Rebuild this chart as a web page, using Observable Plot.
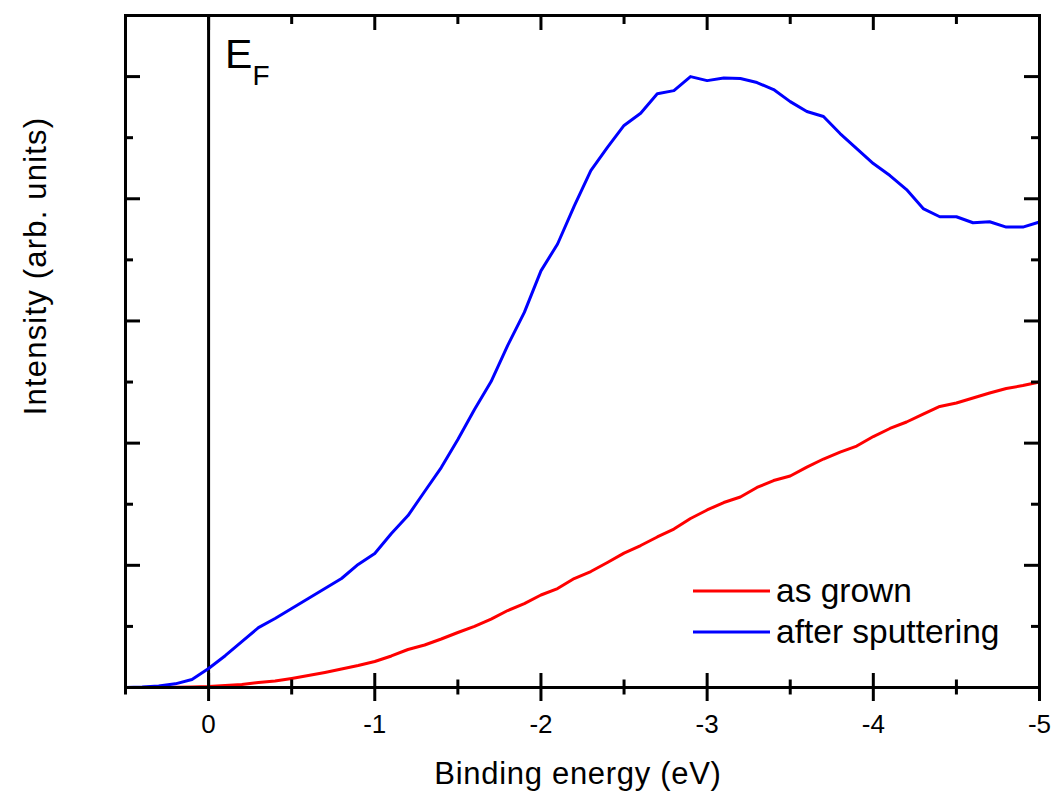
<!DOCTYPE html>
<html>
<head>
<meta charset="utf-8">
<script src="https://cdn.jsdelivr.net/npm/d3@7"></script>
<script src="https://cdn.jsdelivr.net/npm/@observablehq/plot@0.6"></script>
<style>
  body { margin: 0; background: #fff; }
  #chart svg { font-family: Arial, "Liberation Sans", sans-serif; }
</style>
</head>
<body>
<div id="chart"></div>
<script>
// Binding energy (eV), sampled every 0.1 eV
const energy = [0.5, 0.4, 0.3, 0.2, 0.1, 0, -0.1, -0.2, -0.3, -0.4, -0.5, -0.6, -0.7, -0.8, -0.9, -1.0,
  -1.1, -1.2, -1.3, -1.4, -1.5, -1.6, -1.7, -1.8, -1.9, -2.0, -2.1, -2.2, -2.3, -2.4, -2.5,
  -2.6, -2.7, -2.8, -2.9, -3.0, -3.1, -3.2, -3.3, -3.4, -3.5, -3.6, -3.7, -3.8, -3.9, -4.0,
  -4.1, -4.2, -4.3, -4.4, -4.5, -4.6, -4.7, -4.8, -4.9, -5.0];

// Intensity (arb. units), "as grown"
const asGrown = [0, 0, 0, 0.002, 0.004, 0.008, 0.016, 0.025, 0.041, 0.053, 0.074, 0.098, 0.123, 0.151, 0.18, 0.213,
  0.258, 0.311, 0.348, 0.397, 0.45, 0.50, 0.56, 0.63, 0.687, 0.757, 0.81, 0.892, 0.949, 1.023, 1.10,
  1.162, 1.232, 1.297, 1.383, 1.453, 1.514, 1.559, 1.637, 1.694, 1.731, 1.804, 1.87, 1.927, 1.976, 2.054,
  2.12, 2.173, 2.238, 2.30, 2.328, 2.369, 2.41, 2.447, 2.471, 2.50];

// Intensity (arb. units), "after sputtering"
const afterSputtering = [0, 0.004, 0.012, 0.03, 0.065, 0.155, 0.26, 0.376, 0.49, 0.565, 0.646, 0.728, 0.81, 0.892, 1.007, 1.097,
  1.26, 1.407, 1.604, 1.80, 2.03, 2.275, 2.504, 2.80, 3.07, 3.41, 3.63, 3.94, 4.23, 4.42, 4.60,
  4.70, 4.86, 4.885, 5.0, 4.967, 4.988, 4.984, 4.951, 4.894, 4.795, 4.714, 4.673, 4.534, 4.411, 4.288,
  4.19, 4.075, 3.92, 3.853, 3.853, 3.804, 3.812, 3.768, 3.768, 3.81];

const seriesNames = ["as grown", "after sputtering"];
const seriesColors = ["#ff0000", "#0000ff"];

const xMajorTicks = [0, -1, -2, -3, -4, -5];
const xMinorTicks = [0.5, -0.5, -1.5, -2.5, -3.5, -4.5];
const yMajorTicks = [1, 2, 3, 4, 5];
const yMinorTicks = [0.5, 1.5, 2.5, 3.5, 4.5];

const xTitle = "Binding energy (eV)";
const yTitle = "Intensity (arb. units)";

const redData = energy.map((e, i) => ({E: e, I: asGrown[i]}));
const blueData = energy.map((e, i) => ({E: e, I: afterSputtering[i]}));

const empty = () => "";
const fmt = d => String(d);

const plot = Plot.plot({
  width: 1053,
  height: 795,
  marginTop: 15,
  marginRight: 14,
  marginBottom: 108,
  marginLeft: 125,
  style: {fontFamily: 'Arial, "Liberation Sans", sans-serif', background: "#fff"},
  x: {domain: [0.5, -5], axis: null, label: null},
  y: {domain: [0, 5.5], axis: null, label: null},
  marks: [
    Plot.ruleX([0], {stroke: "black", strokeWidth: 3}),
    Plot.line(redData, {x: "E", y: "I", stroke: seriesColors[0], strokeWidth: 3}),
    Plot.line(blueData, {x: "E", y: "I", stroke: seriesColors[1], strokeWidth: 3}),
    // bottom ticks (crossing)
    Plot.axisX(xMajorTicks, {anchor: "bottom", tickSize: 28, insetBottom: 14, tickFormat: empty, strokeWidth: 3, label: null}),
    Plot.axisX(xMinorTicks, {anchor: "bottom", tickSize: 15, insetBottom: 7.5, tickFormat: empty, strokeWidth: 3, label: null}),
    // bottom tick labels
    Plot.axisX(xMajorTicks, {anchor: "bottom", tickSize: 0, tickPadding: 27, tickFormat: fmt, fontSize: 26, label: null, ariaLabel: "x-axis labels"}),
    // top ticks (inward)
    Plot.axisX(xMajorTicks, {anchor: "top", tickSize: 14, insetTop: 14, tickFormat: empty, strokeWidth: 3, label: null}),
    Plot.axisX(xMinorTicks, {anchor: "top", tickSize: 8, insetTop: 8, tickFormat: empty, strokeWidth: 3, label: null}),
    // left ticks (inward)
    Plot.axisY(yMajorTicks, {anchor: "left", tickSize: 15, insetLeft: 15, tickFormat: empty, strokeWidth: 3, label: null}),
    Plot.axisY(yMinorTicks, {anchor: "left", tickSize: 8, insetLeft: 8, tickFormat: empty, strokeWidth: 3, label: null}),
    // right ticks (inward)
    Plot.axisY(yMajorTicks, {anchor: "right", tickSize: 16, insetRight: 16, tickFormat: empty, strokeWidth: 3, label: null}),
    Plot.axisY(yMinorTicks, {anchor: "right", tickSize: 9, insetRight: 9, tickFormat: empty, strokeWidth: 3, label: null}),
    Plot.frame({stroke: "black", strokeWidth: 3})
  ]
});

document.getElementById("chart").appendChild(plot);

const svg = d3.select(plot);
const sx = plot.scale("x");
const x0 = sx.apply(0);

// make sure the tick labels use the large size
svg.selectAll("text").filter(function () { return this.textContent !== "" && /^-?\d$/.test(this.textContent); })
  .attr("font-size", 26).style("font-size", "26px");

// E_F label
const ef = svg.append("text")
  .attr("x", x0 + 17).attr("y", 68)
  .attr("text-anchor", "start")
  .attr("font-size", 41).attr("fill", "black");
ef.append("tspan").text("E");
ef.append("tspan").attr("dy", 17).attr("font-size", 28).text("F");

// Axis titles
svg.append("text")
  .attr("x", 578).attr("y", 783.5)
  .attr("text-anchor", "middle").attr("font-size", 31)
  .attr("letter-spacing", "0.7px").attr("fill", "black")
  .text(xTitle);

svg.append("text")
  .attr("transform", "translate(46,266) rotate(-90)")
  .attr("text-anchor", "middle").attr("font-size", 31)
  .attr("letter-spacing", "1.2px").attr("fill", "black")
  .text(yTitle);

// Legend
const legendY = [591, 632];
seriesNames.forEach((name, i) => {
  svg.append("line")
    .attr("x1", 693).attr("x2", 770)
    .attr("y1", legendY[i]).attr("y2", legendY[i])
    .attr("stroke", seriesColors[i]).attr("stroke-width", 3);
  svg.append("text")
    .attr("x", 776).attr("y", legendY[i] + 11)
    .attr("text-anchor", "start")
    .attr("font-size", 33.5).attr("fill", "black")
    .text(name);
});
</script>
</body>
</html>
